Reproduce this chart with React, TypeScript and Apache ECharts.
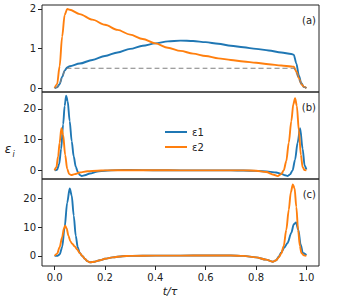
import React, { useEffect, useRef } from "react";
import * as echarts from "echarts";

// Panel (a)
const T_A = [0, 0.01, 0.02, 0.03, 0.04, 0.05, 0.06, 0.1, 0.15, 0.2, 0.25, 0.3, 0.35, 0.4, 0.45, 0.5, 0.55, 0.6, 0.65, 0.7, 0.75, 0.8, 0.85, 0.9, 0.94, 0.95, 0.96, 0.97, 0.98, 0.99, 1.0];
const A1 = [0, 0.02, 0.1, 0.28, 0.44, 0.52, 0.55, 0.62, 0.71, 0.81, 0.9, 0.99, 1.07, 1.13, 1.18, 1.2, 1.19, 1.16, 1.12, 1.07, 1.03, 0.99, 0.95, 0.9, 0.86, 0.84, 0.62, 0.32, 0.12, 0.03, 0];
const A2 = [0, 0.1, 0.55, 1.3, 1.85, 2.0, 1.98, 1.87, 1.73, 1.6, 1.47, 1.35, 1.24, 1.13, 1.02, 0.94, 0.87, 0.81, 0.75, 0.71, 0.67, 0.64, 0.6, 0.57, 0.545, 0.54, 0.42, 0.25, 0.1, 0.03, 0];
const A_REF = [0, 0.02, 0.1, 0.28, 0.44, 0.5, 0.5, 0.5, 0.5, 0.5, 0.5, 0.5, 0.5, 0.5, 0.5, 0.5, 0.5, 0.5, 0.5, 0.5, 0.5, 0.5, 0.5, 0.5, 0.5, 0.5, 0.38, 0.22, 0.09, 0.02, 0];

// Panel (b)
const T_B1 = [0, 0.01, 0.018, 0.026, 0.034, 0.04, 0.046, 0.052, 0.06, 0.068, 0.076, 0.084, 0.092, 0.1, 0.108, 0.12, 0.14, 0.17, 0.2, 0.25, 0.3, 0.4, 0.5, 0.6, 0.7, 0.75, 0.8, 0.85, 0.88, 0.9, 0.915, 0.926, 0.935, 0.945, 0.955, 0.965, 0.975, 0.985, 0.993, 1.0];
const B1 = [0, 0.2, 2, 7, 15, 21, 24.3, 22.5, 16, 9.5, 4.5, 1.2, -0.5, -1.5, -1.8, -1.6, -1.0, -0.4, -0.1, 0.1, 0.15, 0.05, 0, 0, 0, -0.05, -0.15, -0.4, -0.7, -1.1, -1.6, -1.8, -1.3, 0, 3.5, 9, 13.7, 7, 1.5, 0.3];
const T_B2 = [0, 0.007, 0.014, 0.02, 0.027, 0.034, 0.042, 0.05, 0.058, 0.066, 0.08, 0.1, 0.13, 0.17, 0.2, 0.3, 0.4, 0.5, 0.6, 0.7, 0.75, 0.8, 0.84, 0.87, 0.886, 0.9, 0.91, 0.92, 0.93, 0.94, 0.948, 0.955, 0.962, 0.97, 0.978, 0.985, 0.993, 1.0];
const B2 = [0, 1, 4.5, 9, 13.7, 11.5, 5, 0.5, -1.2, -1.5, -1.2, -0.7, -0.3, -0.1, 0, 0.05, 0.05, 0, 0, 0, 0, -0.1, -0.5, -1.4, -1.85, -1.2, 0, 3, 9, 16, 21.5, 23.5, 21, 13, 5, 1, 0.1, 0];

// Panel (c)
const T_C1 = [0, 0.01, 0.02, 0.03, 0.04, 0.05, 0.06, 0.068, 0.076, 0.084, 0.092, 0.1, 0.11, 0.12, 0.13, 0.14, 0.16, 0.18, 0.2, 0.23, 0.27, 0.3, 0.4, 0.5, 0.6, 0.7, 0.75, 0.8, 0.84, 0.866, 0.88, 0.89, 0.9, 0.913, 0.925, 0.94, 0.95, 0.959, 0.968, 0.977, 0.986, 1.0];
const C1 = [0, 0, 0.5, 3, 10, 18.5, 23.4, 21, 14, 7, 3, 1, 0, -1, -1.8, -2.2, -2, -1.5, -1, -0.5, -0.1, 0, 0.1, 0.1, 0.15, 0.15, 0, -0.5, -1.3, -2.0, -1.5, -0.3, 1.2, 3, 4.5, 8, 11, 11.6, 9, 4, 1, 0.3];
const T_C2 = [0, 0.01, 0.02, 0.03, 0.037, 0.042, 0.048, 0.055, 0.063, 0.07, 0.08, 0.09, 0.1, 0.11, 0.12, 0.13, 0.14, 0.16, 0.18, 0.2, 0.23, 0.27, 0.3, 0.4, 0.5, 0.6, 0.7, 0.75, 0.8, 0.84, 0.866, 0.88, 0.89, 0.9, 0.91, 0.92, 0.93, 0.938, 0.946, 0.953, 0.96, 0.967, 0.974, 0.98, 0.99, 1.0];
const C2 = [0, 0.8, 3, 6.5, 9.5, 10.5, 9.5, 7, 5, 4.2, 3.3, 2.2, 1.0, 0, -1, -1.8, -2.2, -2, -1.5, -1, -0.5, -0.1, 0, 0.1, 0.1, 0.15, 0.15, 0, -0.5, -1.3, -2.0, -1.5, -0.5, 0.8, 3.5, 9, 16, 22, 24.8, 23.5, 17, 9, 3.5, 1, 0.2, 0];

const X_TICKS = [0, 0.2, 0.4, 0.6, 0.8, 1.0];
const YA_TICKS = [0, 1, 2];
const YB_TICKS = [0, 10, 20];
const YC_TICKS = [0, 10, 20];
const PANEL_LABELS = ["(a)", "(b)", "(c)"];
const NAMES = ["ε1", "ε2"];

const zip = (t: number[], v: number[]) => t.map((x, i) => [x, v[i]]);

const BLUE = "#1f77b4";
const ORANGE = "#ff7f0e";
const FONT = "DejaVu Sans";

export default function App() {
  const ref = useRef<HTMLDivElement>(null);
  useEffect(() => {
    document.body.style.margin = "0";
    const chart = echarts.init(ref.current!, null, { renderer: "svg" });
    const tops = [5, 92, 179];
    const grids = tops.map((top) => ({
      left: 42,
      width: 277,
      top,
      height: 87,
      show: true,
      borderColor: "#222",
      borderWidth: 1,
      backgroundColor: "transparent",
    }));
    const xAxes = [0, 1, 2].map((i) => ({
      type: "value",
      gridIndex: i,
      min: -0.05,
      max: 1.05,
      axisLine: { show: false, onZero: false },
      splitLine: { show: false },
      axisTick: {
        show: i === 2,
        customValues: X_TICKS,
        length: 4,
        lineStyle: { color: "#222" },
      },
      axisLabel: {
        show: i === 2,
        customValues: X_TICKS,
        formatter: (v: number) => v.toFixed(1),
        fontFamily: FONT,
        fontSize: 10,
        color: "#222",
        margin: 6,
      },
    }));
    const yRanges = [
      [-0.1, 2.1, YA_TICKS],
      [-2.8, 25.5, YB_TICKS],
      [-3.5, 26.7, YC_TICKS],
    ] as const;
    const yAxes = yRanges.map(([min, max, ticks], i) => ({
      type: "value",
      gridIndex: i,
      min,
      max,
      axisLine: { show: false, onZero: false },
      splitLine: { show: false },
      axisTick: {
        show: true,
        customValues: ticks as unknown as number[],
        length: 4,
        lineStyle: { color: "#222" },
      },
      axisLabel: {
        customValues: ticks as unknown as number[],
        fontFamily: FONT,
        fontSize: 10,
        color: "#222",
        margin: 6,
      },
    }));
    const line = (name: string, data: number[][], idx: number, color: string, extra: any = {}) => ({
      type: "line",
      name,
      xAxisIndex: idx,
      yAxisIndex: idx,
      data,
      showSymbol: false,
      smooth: 0.3,
      smoothMonotone: "x",
      lineStyle: { color, width: 1.9 },
      itemStyle: { color },
      ...extra,
    });
    const series = [
      line(NAMES[0], zip(T_A, A1), 0, BLUE),
      line(NAMES[1], zip(T_A, A2), 0, ORANGE),
      line("ref", zip(T_A, A_REF), 0, "#808080", {
        lineStyle: { color: "#808080", width: 1.2, type: [5, 3] },
      }),
      line(NAMES[0], zip(T_B1, B1), 1, BLUE),
      line(NAMES[1], zip(T_B2, B2), 1, ORANGE),
      line(NAMES[0], zip(T_C1, C1), 2, BLUE),
      line(NAMES[1], zip(T_C2, C2), 2, ORANGE),
    ];
    const graphics: any[] = PANEL_LABELS.map((txt, i) => ({
      type: "text",
      x: 316,
      y: tops[i] + 15,
      style: {
        text: txt,
        fontFamily: FONT,
        fontSize: 10,
        fill: "#222",
        align: "right",
        verticalAlign: "middle",
      },
    }));
    graphics.push(
      {
        type: "text",
        x: 170,
        y: 291,
        style: {
          text: "t/τ",
          fontFamily: FONT,
          fontSize: 11,
          fontStyle: "italic",
          fill: "#222",
          align: "center",
          verticalAlign: "middle",
        },
      },
      {
        type: "text",
        x: 8,
        y: 149,
        style: {
          text: "ε",
          fontFamily: FONT,
          fontSize: 12,
          fontStyle: "italic",
          fill: "#222",
          align: "center",
          verticalAlign: "middle",
        },
      },
      {
        type: "text",
        x: 13.5,
        y: 154,
        style: {
          text: "i",
          fontFamily: FONT,
          fontSize: 8,
          fontStyle: "italic",
          fill: "#222",
          align: "center",
          verticalAlign: "middle",
        },
      }
    );
    chart.setOption({
      animation: false,
      backgroundColor: "#fff",
      grid: grids,
      xAxis: xAxes,
      yAxis: yAxes,
      series,
      legend: {
        data: NAMES,
        orient: "vertical",
        left: 160,
        top: 121,
        icon: "rect",
        itemWidth: 22,
        itemHeight: 2,
        itemGap: 3,
        textStyle: { fontFamily: FONT, fontSize: 10, color: "#222", lineHeight: 12 },
      },
      graphic: graphics,
    });
    return () => chart.dispose();
  }, []);
  return <div ref={ref} style={{ width: 340, height: 300 }} />;
}
